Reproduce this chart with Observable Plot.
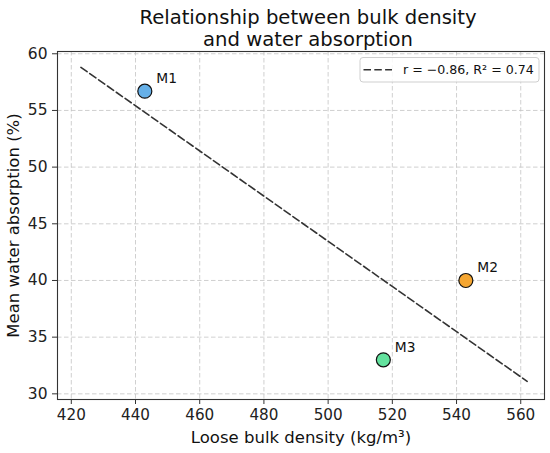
<!DOCTYPE html>
<html><head><meta charset="utf-8">
<script src="https://cdn.jsdelivr.net/npm/d3@7"></script>
<script src="https://cdn.jsdelivr.net/npm/@observablehq/plot@0.6"></script>
<style>body{margin:0;background:#fff} #chart{width:550px;height:453px}</style>
</head><body><div id="chart"></div>
<script>
// ---- data ----
const samples = ["M1", "M2", "M3"];
const density = [442.9, 542.9, 517.2];      // kg/m³
const absorption = [56.7, 40.0, 33.0];      // %
const colors = ["#66B0E8", "#F5A631", "#63E29E"];
const fitX = [423, 562];
const fitY = [58.8, 31.1];
const xTicks = [420, 440, 460, 480, 500, 520, 540, 560];
const yTicks = [30, 35, 40, 45, 50, 55, 60];
const titleText = "Relationship between bulk density\nand water absorption";
const xLabel = "Loose bulk density (kg/m³)";
const yLabel = "Mean water absorption (%)";
const legendText = "r = −0.86, R² = 0.74";

const points = samples.map((s, i) => ({sample: s, x: density[i], y: absorption[i], color: colors[i]}));
const fit = fitX.map((x, i) => ({x, y: fitY[i]}));

const W = 550, H = 453, mL = 57, mR = 6, mT = 51, mB = 54;
const font = "DejaVu Sans";

const plot = Plot.plot({
  width: W, height: H,
  marginLeft: mL, marginRight: mR, marginTop: mT, marginBottom: mB,
  style: {fontFamily: font, fontSize: "15.2px", color: "#222", background: "#fff", overflow: "visible"},
  x: {domain: [415.7, 567.4]},
  y: {domain: [29.5, 60.2]},
  color: {type: "identity"},
  marks: [
    Plot.gridX(xTicks, {stroke: "#c4c4c4", strokeOpacity: 1, strokeWidth: 0.8, strokeDasharray: "4.5,2.5"}),
    Plot.gridY(yTicks, {stroke: "#c4c4c4", strokeOpacity: 1, strokeWidth: 0.8, strokeDasharray: "4.5,2.5"}),
    Plot.line(fit, {x: "x", y: "y", stroke: "#333", strokeWidth: 1.6, strokeDasharray: "7.5,3.3"}),
    Plot.dot(points, {x: "x", y: "y", r: 7, fill: "color", stroke: "#111", strokeWidth: 1.2}),
    Plot.text(points, {x: "x", y: "y", text: "sample", dx: 11.5, dy: -12.5, textAnchor: "start", lineAnchor: "middle", fontSize: 13.8, fill: "#111"}),
    Plot.frame({stroke: "#333", strokeWidth: 1.1}),
    Plot.axisX(xTicks, {tickSize: 5, tickPadding: 5, fontSize: 15.2, stroke: "#333", label: null}),
    Plot.axisY(yTicks, {tickSize: 5, tickPadding: 5, fontSize: 15.5, stroke: "#333", label: null}),
    Plot.text([titleText], {frameAnchor: "top", dx: 7, dy: -44, lineAnchor: "top", lineHeight: 1.16, fontSize: 19.6, fill: "#111"}),
    Plot.text([xLabel], {frameAnchor: "bottom", dy: 43, fontSize: 16.5, fill: "#111"}),
    Plot.text([yLabel], {frameAnchor: "left", textAnchor: "middle", dx: -44, rotate: -90, fontSize: 16.5, fill: "#111"})
  ]
});

// legend (decoration, top-right of the frame)
const svg = d3.select(plot);
const lx = W - mR - 184, ly = mT + 6.5;
const lg = svg.append("g").attr("font-family", font).attr("text-anchor", "start");
lg.append("rect").attr("x", lx).attr("y", ly).attr("width", 179).attr("height", 24.5).attr("rx", 3)
  .attr("fill", "#fff").attr("fill-opacity", 0.85).attr("stroke", "#cfcfcf").attr("stroke-width", 1);
lg.append("line").attr("x1", lx + 3.5).attr("x2", lx + 32).attr("y1", ly + 12.2).attr("y2", ly + 12.2)
  .attr("stroke", "#333").attr("stroke-width", 1.6).attr("stroke-dasharray", "7.5,3.3");
lg.append("text").attr("x", lx + 43).attr("y", ly + 16.8).attr("text-anchor", "start")
  .attr("font-size", 12.6).attr("fill", "#111").text(legendText);

document.getElementById("chart").appendChild(plot);
</script></body></html>
